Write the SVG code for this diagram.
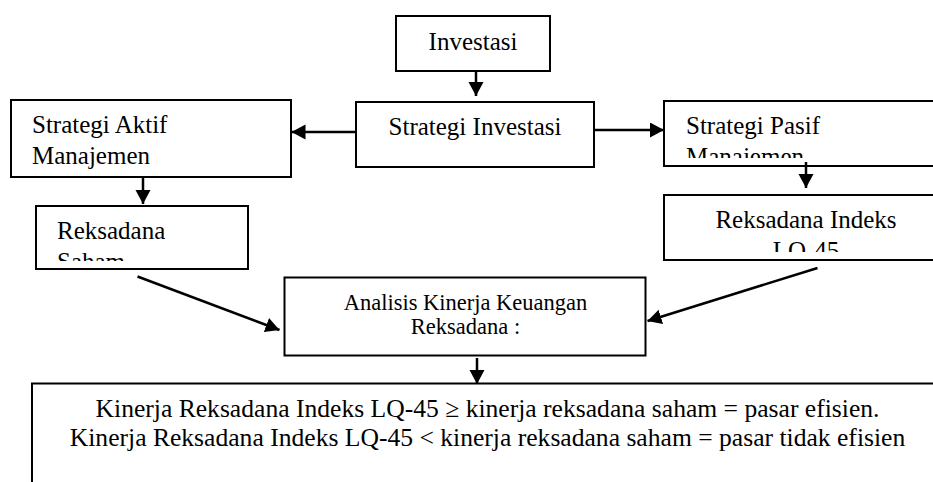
<svg xmlns="http://www.w3.org/2000/svg" width="933" height="482" viewBox="0 0 933 482">
<style>
.box{fill:#fff;stroke:#000;stroke-width:2}
.t{font-family:"Liberation Serif","Times New Roman",serif;font-size:25px;fill:#000}
.s{font-size:22.5px}
.b{font-size:25.6px}
.c{stroke:#000;stroke-width:2.5;fill:none;marker-end:url(#ah)}
</style>
<defs>
<marker id="ah" markerUnits="userSpaceOnUse" markerWidth="16" markerHeight="16" refX="14" refY="7.5" orient="auto" viewBox="0 0 16 16">
<path d="M0,0 L14,7.5 L0,15 z" fill="#000"/>
</marker>
<clipPath id="cSaham"><rect x="36" y="206" width="212" height="55"/></clipPath>
<clipPath id="cPasif"><rect x="664" y="101" width="290" height="57"/></clipPath>
<clipPath id="cIndeks"><rect x="664" y="195" width="290" height="57"/></clipPath>
</defs>
<rect width="933" height="482" fill="#fff"/>
<g id="investasi">
<rect class="box" x="396" y="16" width="154" height="55"/>
<text class="t" x="473" y="50" text-anchor="middle">Investasi</text>
</g>
<g id="strategi-investasi">
<rect class="box" x="356" y="102" width="238" height="65"/>
<text class="t" x="475" y="135" text-anchor="middle">Strategi Investasi</text>
</g>
<g id="strategi-aktif">
<rect class="box" x="11" y="100" width="280" height="77"/>
<text class="t" x="32" y="133">Strategi Aktif</text>
<text class="t" x="32" y="164">Manajemen</text>
</g>
<g id="reksadana-saham">
<rect class="box" x="36" y="206" width="212" height="63"/>
<g clip-path="url(#cSaham)">
<text class="t" x="57" y="239">Reksadana</text>
<text class="t" x="57" y="270">Saham</text>
</g>
</g>
<g id="strategi-pasif">
<rect class="box" x="664" y="101" width="290" height="65"/>
<g clip-path="url(#cPasif)">
<text class="t" x="686" y="134">Strategi Pasif</text>
<text class="t" x="686" y="165">Manajemen</text>
</g>
</g>
<g id="reksadana-indeks">
<rect class="box" x="664" y="195" width="290" height="65"/>
<g clip-path="url(#cIndeks)">
<text class="t" x="806" y="228" text-anchor="middle">Reksadana Indeks</text>
<text class="t" x="806" y="259" text-anchor="middle">LQ-45</text>
</g>
</g>
<g id="analisis">
<rect class="box" x="284.5" y="277.5" width="361" height="78"/>
<text class="t s" x="465.5" y="310" text-anchor="middle">Analisis Kinerja Keuangan</text>
<text class="t s" x="465.5" y="334" text-anchor="middle">Reksadana :</text>
</g>
<g id="kesimpulan">
<rect class="box" x="32" y="383.5" width="930" height="120"/>
<text class="t b" x="487.5" y="417" text-anchor="middle">Kinerja Reksadana Indeks LQ-45 ≥ kinerja reksadana saham = pasar efisien.</text>
<text class="t b" x="487.5" y="446" text-anchor="middle">Kinerja Reksadana Indeks LQ-45 &lt; kinerja reksadana saham = pasar tidak efisien</text>
</g>
<g id="connectors">
<line class="c" x1="476" y1="71" x2="476" y2="96"/>
<line class="c" x1="356" y1="132" x2="291.5" y2="132"/>
<line class="c" x1="594" y1="130" x2="664" y2="130"/>
<line class="c" x1="143" y1="177" x2="143" y2="204"/>
<line class="c" x1="806" y1="162" x2="806" y2="188"/>
<line class="c" x1="137.5" y1="276.5" x2="279.5" y2="330"/>
<line class="c" x1="817.5" y1="268" x2="647.5" y2="321"/>
<line class="c" x1="477" y1="358" x2="477" y2="384"/>
</g>
</svg>
